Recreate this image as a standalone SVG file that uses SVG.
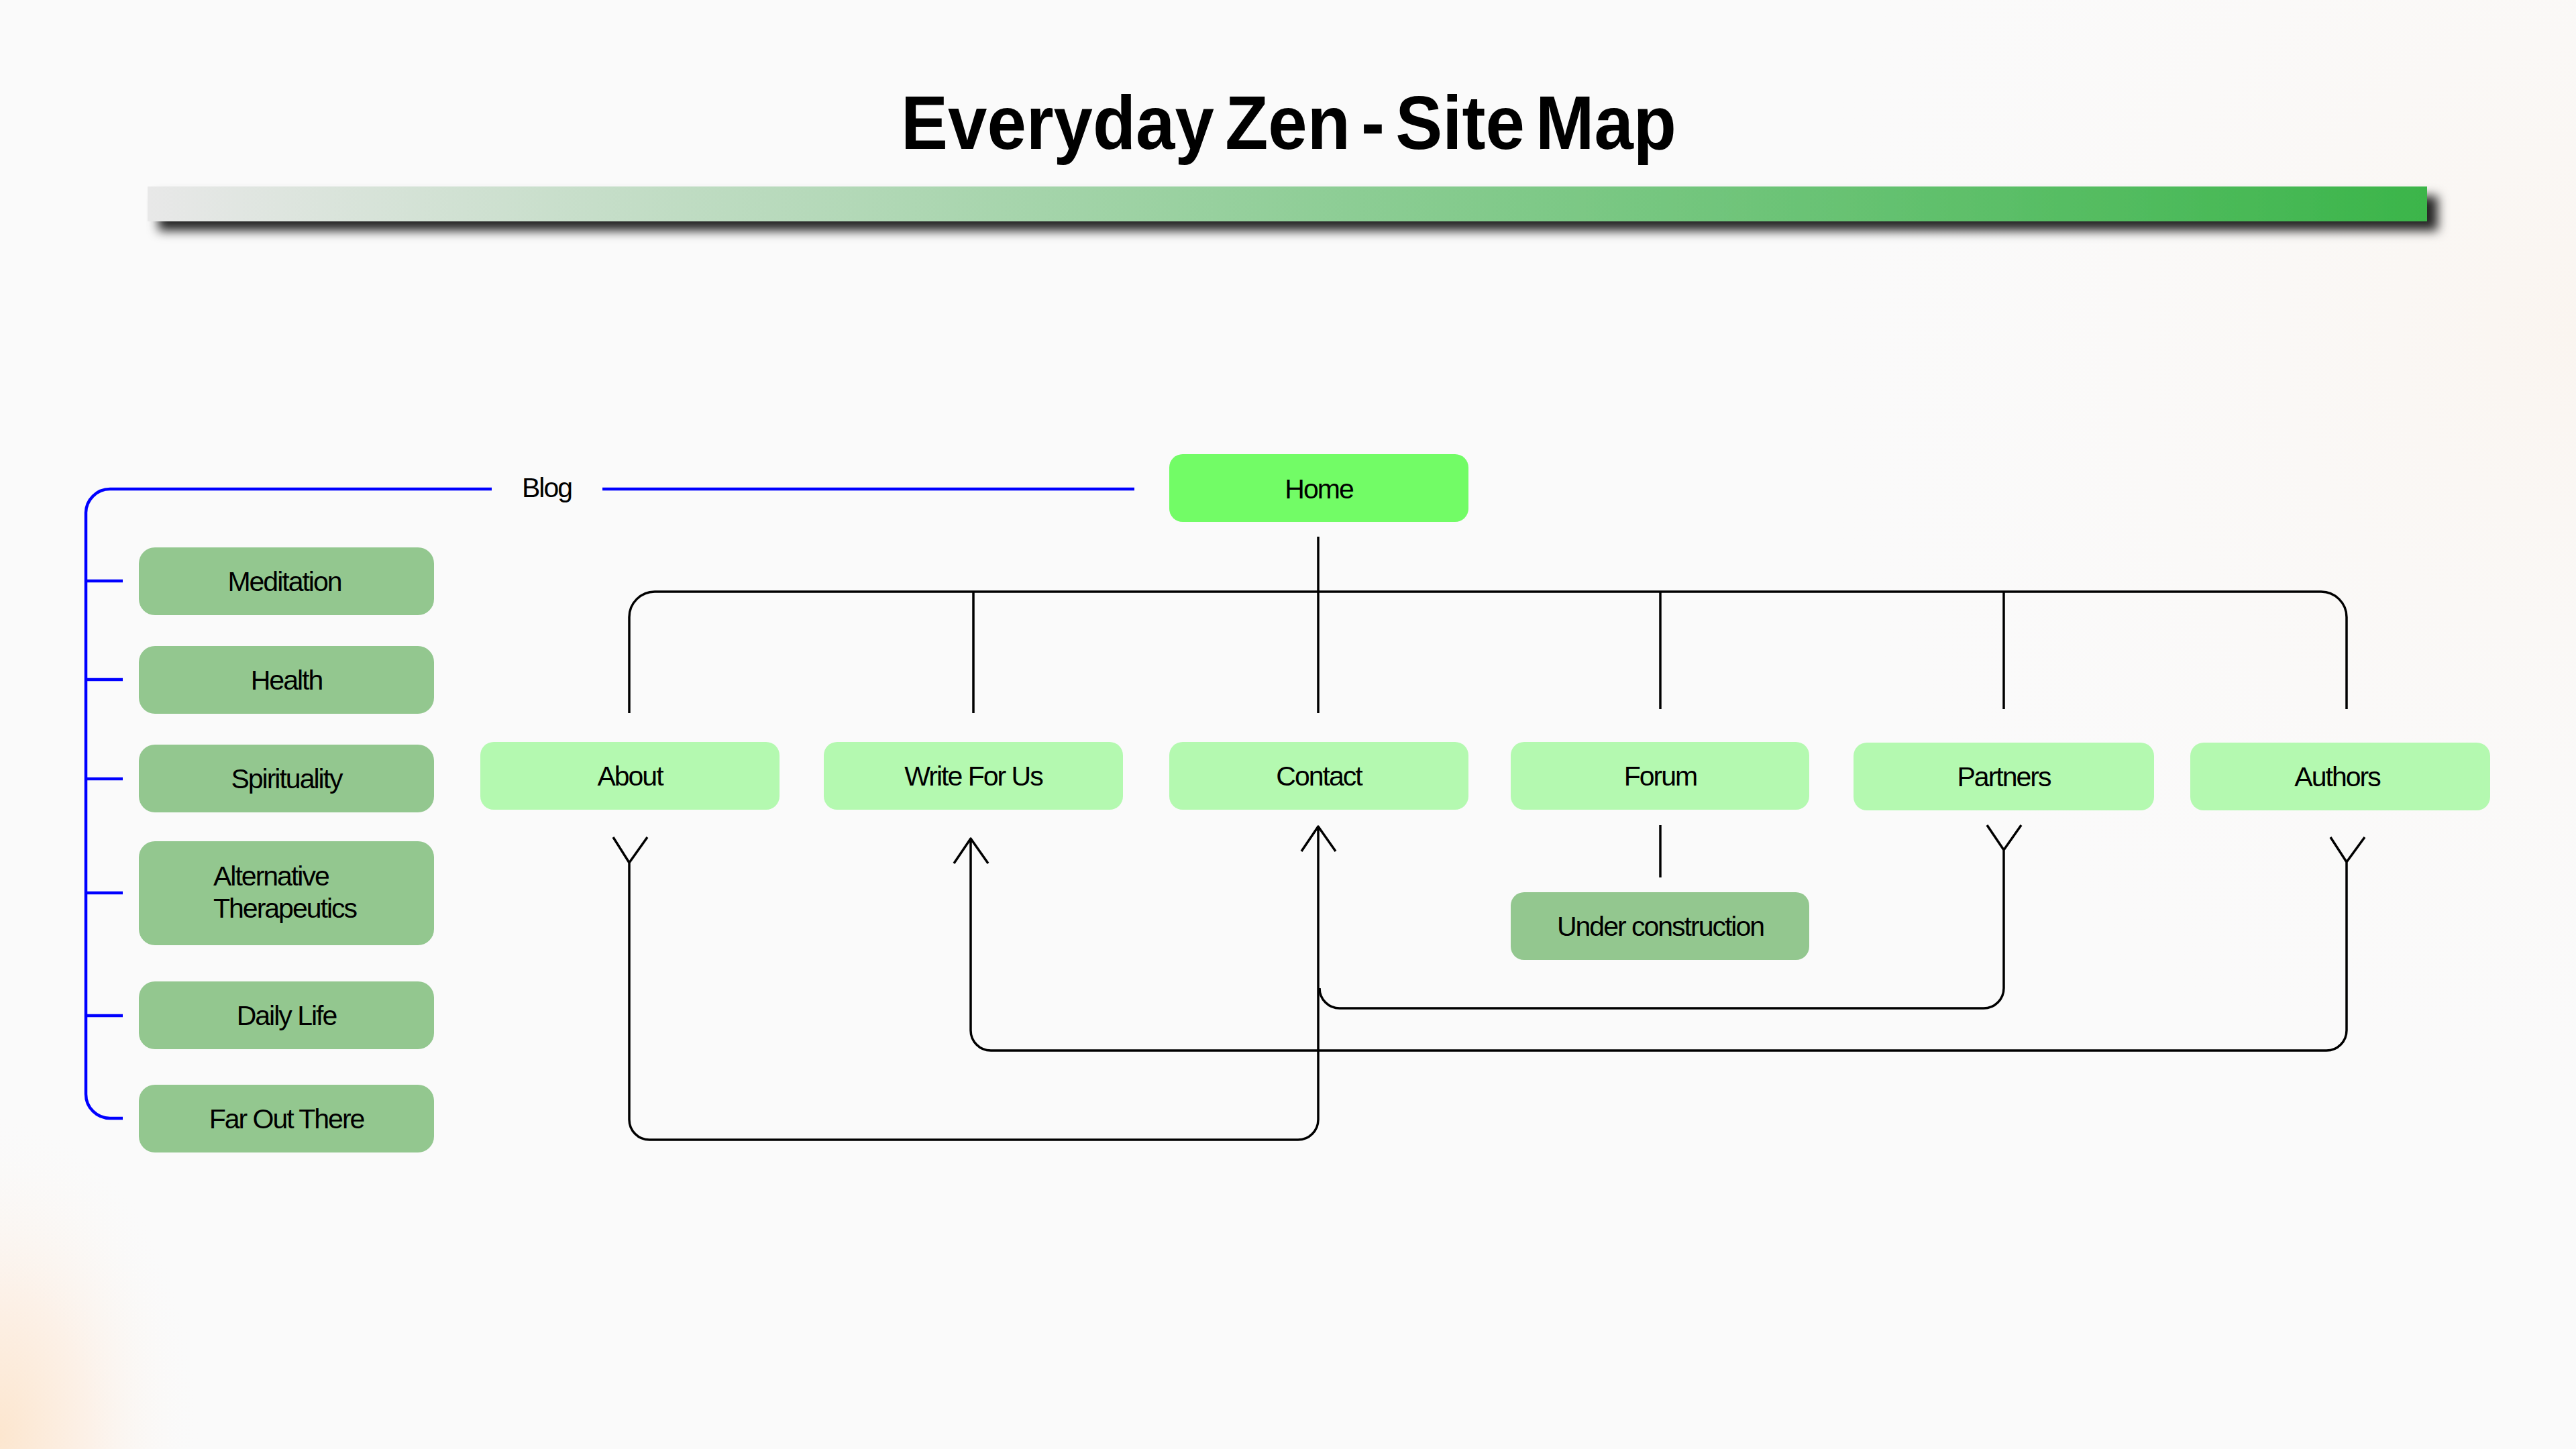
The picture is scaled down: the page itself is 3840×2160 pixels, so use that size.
<svg xmlns="http://www.w3.org/2000/svg" width="3840" height="2160" viewBox="0 0 3840 2160">
<defs>
<style>
.lbl{font-family:"Liberation Sans",Arial,sans-serif;font-size:41px;letter-spacing:-2px;fill:#000;text-anchor:middle}
.lbl2{font-family:"Liberation Sans",Arial,sans-serif;font-size:41px;letter-spacing:-2px;fill:#000}
.title{font-family:"Liberation Sans",Arial,sans-serif;font-size:114px;font-weight:bold;fill:#000;text-anchor:middle;word-spacing:-14px}
.light{fill:#b4f9b0}
.dark{fill:#93c78f}
.home{fill:#72fc66}
.blk{fill:none;stroke:#000;stroke-width:3.5;stroke-linejoin:round}
.blue{fill:none;stroke:#0000ff;stroke-width:4.5}
</style>
<linearGradient id="bar" x1="0" y1="0" x2="1" y2="0">
<stop offset="0" stop-color="#e8e8e8"/>
<stop offset="1" stop-color="#3bb54a"/>
</linearGradient>
<radialGradient id="glowBL" cx="0" cy="0" r="1" gradientUnits="userSpaceOnUse" gradientTransform="translate(0 2140) scale(300 480)">
<stop offset="0" stop-color="#fce6cf"/>
<stop offset="0.45" stop-color="#fcf1e8"/>
<stop offset="1" stop-color="#fafafa" stop-opacity="0"/>
</radialGradient>
<radialGradient id="glowR" cx="3840" cy="500" r="1200" gradientUnits="userSpaceOnUse">
<stop offset="0" stop-color="#faf5f0"/>
<stop offset="1" stop-color="#fafafa" stop-opacity="0"/>
</radialGradient>
<filter id="shadow" x="-5%" y="-100%" width="110%" height="400%">
<feDropShadow dx="16" dy="14" stdDeviation="8" flood-color="#000" flood-opacity="0.85"/>
</filter>
</defs>
<rect width="3840" height="2160" fill="#fafafa"/>
<rect width="3840" height="2160" fill="url(#glowR)"/>
<rect width="3840" height="2160" fill="url(#glowBL)"/>

<text class="title" x="1921" y="222" textLength="1156" lengthAdjust="spacingAndGlyphs">Everyday Zen - Site Map</text>
<rect x="220" y="278" width="3398" height="52" fill="url(#bar)" filter="url(#shadow)"/>

<g id="connectors">
<path class="blue" d="M733,729 H164 A36,36 0 0 0 128,765 V1631 A36,36 0 0 0 164,1667 H183"/>
<path class="blue" d="M898,729 H1691"/>
<path class="blue" d="M128,866 H183 M128,1013 H183 M128,1161 H183 M128,1331 H183 M128,1514 H183"/>
<path class="blk" d="M1965,800 V1063"/>
<path class="blk" d="M938,1063 V920 A38,38 0 0 1 976,882 H3460 A38,38 0 0 1 3498,920 V1057"/>
<path class="blk" d="M1451,882 V1063 M2475,882 V1057 M2987,882 V1057"/>
<path class="blk" d="M2475,1230 V1308"/>
<path class="blk" d="M914,1248 L938,1286 L965,1248 M938,1286 V1669 A30,30 0 0 0 968,1699 H1935 A30,30 0 0 0 1965,1669 V1232 M1940,1269 L1965,1232 L1991,1269"/>
<path class="blk" d="M1422,1287 L1447,1250 L1473,1287 M1447,1250 V1536 A30,30 0 0 0 1477,1566 H3468 A30,30 0 0 0 3498,1536 V1285 M3474,1248 L3498,1285 L3525,1248"/>
<path class="blk" d="M2962,1230 L2987,1267 L3013,1230 M2987,1267 V1473 A30,30 0 0 1 2957,1503 H1997 A30,30 0 0 1 1967,1473"/>
</g>

<g id="blog-label"><text class="lbl" x="815" y="741">Blog</text></g>

<g id="home"><rect class="home" x="1743" y="677" width="446" height="101" rx="20"/><text class="lbl" x="1966" y="743">Home</text></g>

<g id="about"><rect class="light" x="716" y="1106" width="446" height="101" rx="20"/><text class="lbl" x="939" y="1171">About</text></g>
<g id="write-for-us"><rect class="light" x="1228" y="1106" width="446" height="101" rx="20"/><text class="lbl" x="1451" y="1171">Write For Us</text></g>
<g id="contact"><rect class="light" x="1743" y="1106" width="446" height="101" rx="20"/><text class="lbl" x="1966" y="1171">Contact</text></g>
<g id="forum"><rect class="light" x="2252" y="1106" width="445" height="101" rx="20"/><text class="lbl" x="2475" y="1171">Forum</text></g>
<g id="partners"><rect class="light" x="2763" y="1107" width="448" height="101" rx="20"/><text class="lbl" x="2987" y="1172">Partners</text></g>
<g id="authors"><rect class="light" x="3265" y="1107" width="447" height="101" rx="20"/><text class="lbl" x="3484" y="1172">Authors</text></g>
<g id="under-construction"><rect class="dark" x="2252" y="1330" width="445" height="101" rx="20"/><text class="lbl" x="2475" y="1395">Under construction</text></g>

<g id="meditation"><rect class="dark" x="207" y="816" width="440" height="101" rx="24"/><text class="lbl" x="424" y="881">Meditation</text></g>
<g id="health"><rect class="dark" x="207" y="963" width="440" height="101" rx="24"/><text class="lbl" x="427" y="1028">Health</text></g>
<g id="spirituality"><rect class="dark" x="207" y="1110" width="440" height="101" rx="24"/><text class="lbl" x="427" y="1175">Spirituality</text></g>
<g id="alternative-therapeutics"><rect class="dark" x="207" y="1254" width="440" height="155" rx="24"/><text class="lbl2" x="318" y="1320">Alternative</text><text class="lbl2" x="318" y="1368">Therapeutics</text></g>
<g id="daily-life"><rect class="dark" x="207" y="1463" width="440" height="101" rx="24"/><text class="lbl" x="427" y="1528">Daily Life</text></g>
<g id="far-out-there"><rect class="dark" x="207" y="1617" width="440" height="101" rx="24"/><text class="lbl" x="427" y="1682">Far Out There</text></g>
</svg>
